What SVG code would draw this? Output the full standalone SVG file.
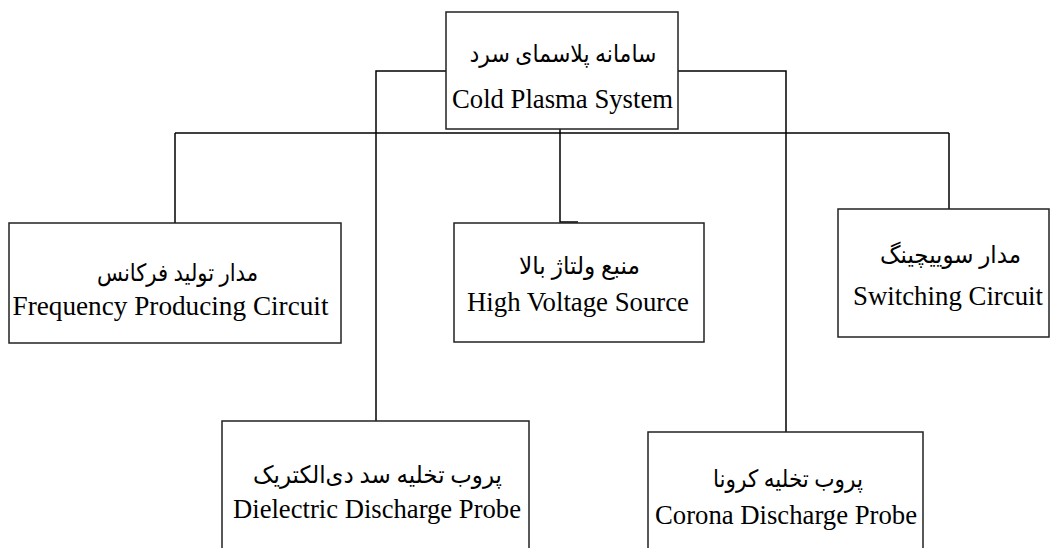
<svg xmlns="http://www.w3.org/2000/svg" width="1051" height="548" viewBox="0 0 1051 548">
<style>
.box{fill:#fff;stroke:#222;stroke-width:1.5}
.conn{fill:none;stroke:#000;stroke-width:1.5}
.en{font-family:"Liberation Serif","Times New Roman",serif;font-size:27px;fill:#000;text-anchor:middle}
.fa{font-family:"Liberation Serif","DejaVu Sans",serif;font-size:24px;fill:#000;text-anchor:middle;direction:rtl}
</style>
<rect width="1051" height="548" fill="#fff"/>
<g id="connectors">
<polyline class="conn" points="446,71 376,71 376,421"/>
<polyline class="conn" points="678,71 786,71 786,432"/>
<line class="conn" x1="175" y1="133" x2="949" y2="133"/>
<polyline class="conn" points="560,129 560,222 578,222"/>
<polyline class="conn" points="175,133 175,223"/>
<polyline class="conn" points="949,133 949,209"/>
</g>
<g id="cold-plasma-system">
<rect class="box" x="446" y="12" width="232" height="117"/>
<text class="fa" x="563" y="62" textLength="187" lengthAdjust="spacingAndGlyphs">سامانه پلاسمای سرد</text>
<text class="en" x="562.5" y="108" textLength="221" lengthAdjust="spacingAndGlyphs">Cold Plasma System</text>
</g>
<g id="frequency-producing-circuit">
<rect class="box" x="9" y="223" width="332" height="120"/>
<text class="fa" x="177.5" y="281" textLength="161" lengthAdjust="spacingAndGlyphs">مدار تولید فرکانس</text>
<text class="en" x="170.5" y="315" textLength="316" lengthAdjust="spacingAndGlyphs">Frequency Producing Circuit</text>
</g>
<g id="high-voltage-source">
<rect class="box" x="454" y="223" width="250" height="119"/>
<text class="fa" x="579.5" y="274" textLength="121" lengthAdjust="spacingAndGlyphs">منبع ولتاژ بالا</text>
<text class="en" x="578" y="311" textLength="222" lengthAdjust="spacingAndGlyphs">High Voltage Source</text>
</g>
<g id="switching-circuit">
<rect class="box" x="838" y="209" width="211" height="128"/>
<text class="fa" x="950.5" y="263" textLength="141" lengthAdjust="spacingAndGlyphs">مدار سوییچینگ</text>
<text class="en" x="948" y="305" textLength="190" lengthAdjust="spacingAndGlyphs">Switching Circuit</text>
</g>
<g id="dielectric-discharge-probe">
<rect class="box" x="222" y="421" width="307" height="140"/>
<text class="fa" x="377.5" y="483" textLength="249" lengthAdjust="spacingAndGlyphs">پروب تخلیه سد دی‌الکتریک</text>
<text class="en" x="377" y="518" textLength="288" lengthAdjust="spacingAndGlyphs">Dielectric Discharge Probe</text>
</g>
<g id="corona-discharge-probe">
<rect class="box" x="648" y="432" width="275" height="130"/>
<text class="fa" x="788" y="487" textLength="150" lengthAdjust="spacingAndGlyphs">پروب تخلیه کرونا</text>
<text class="en" x="786" y="524" textLength="262" lengthAdjust="spacingAndGlyphs">Corona Discharge Probe</text>
</g>
</svg>
